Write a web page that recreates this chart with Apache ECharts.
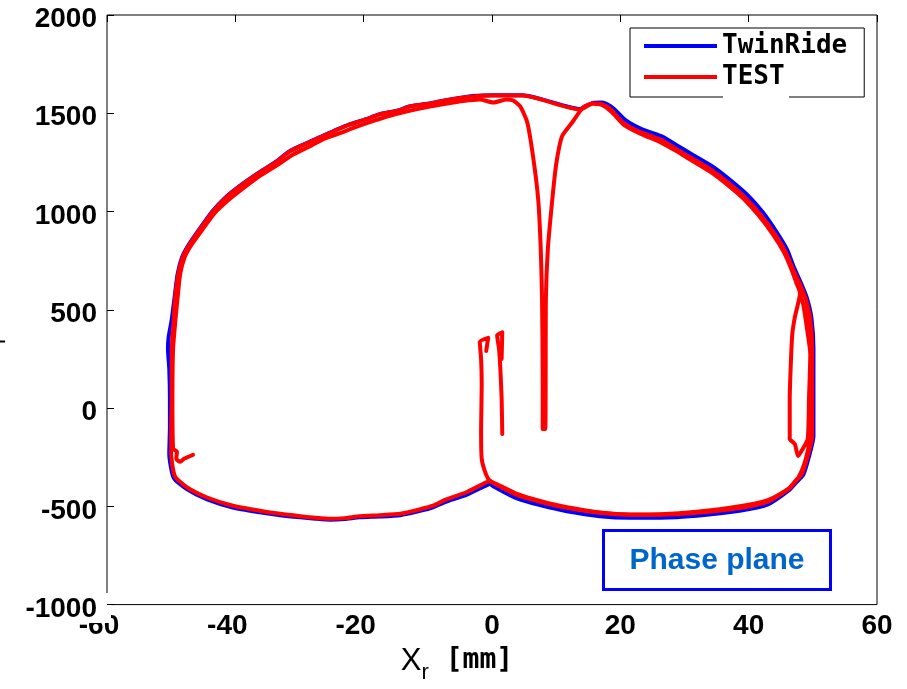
<!DOCTYPE html>
<html>
<head>
<meta charset="utf-8">
<script src="https://cdn.jsdelivr.net/npm/echarts@6/dist/echarts.min.js"></script>
<style>
  html, body { margin: 0; padding: 0; background: #fff; }
  #chart { width: 907px; height: 689px; }
</style>
</head>
<body>
<div id="chart"></div>
<script>
// Axis ranges and tick spacing
const xRange = [-60, 60];
const xStep = 20;
const yRange = [-1000, 2000];
const yStep = 500;

const seriesNames = ['TwinRide', 'TEST'];

// TwinRide trajectory: [x_r (mm), velocity]
const twinRideLoop = [
  [-0.3,-384],[-0.8,-392],[-3.9,-440],[-7.3,-478],[-9.2,-505],[-11.2,-523],[-14.3,-545],[-17.5,-552],
  [-20.6,-556],[-23.0,-565],[-25.2,-568],[-27.5,-563],[-29.9,-556],[-33.0,-545],[-36.2,-530],[-40.4,-506],
  [-44.4,-465],[-47.5,-414],[-49.6,-355],[-50.3,-233],[-50.2,-100],[-50.2,46],[-50.3,200],[-50.5,300],
  [-50.4,360],[-49.9,453],[-49.5,555],[-49.0,681],[-48.3,767],[-47.2,834],[-45.6,910],[-43.6,1000],
  [-41.7,1067],[-39.4,1128],[-36.3,1199],[-33.6,1255],[-31.6,1306],[-28.6,1352],[-26.9,1377],[-24.1,1418],
  [-22.2,1443],[-19.6,1470],[-17.6,1494],[-14.6,1515],[-12.9,1535],[-10.1,1548],[-8.2,1560],[-5.6,1575],
  [-3.0,1588],[0.0,1592],[4.8,1592],[13.7,1522],[15.7,1553],[17.2,1555],[18.8,1528],[20.8,1465],
  [23.4,1418],[26.6,1380],[28.9,1335],[31.3,1288],[34.4,1228],[37.5,1150],[39.8,1084],[42.2,996],
  [44.4,893],[46.0,805],[47.1,712],[48.2,632],[49.1,557],[49.8,455],[50.1,300],[50.1,46],
  [50.1,-142],[49.4,-247],[48.5,-340],[47.3,-382],[46.4,-415],[42.9,-492],[38.6,-523],[31.9,-548],
  [26.2,-558],[21.5,-558],[16.8,-550],[11.7,-525],[7.5,-494],[3.9,-460],[0.2,-398],[-0.3,-384]
];

// TEST trajectory, first lap around the outer loop
const testOuterLoop = [
  [-0.3,-371],[-0.8,-376],[-3.9,-427],[-7.3,-467],[-9.2,-497],[-11.2,-515],[-14.3,-538],[-17.5,-545],
  [-20.6,-550],[-23.0,-560],[-25.2,-563],[-27.5,-558],[-29.9,-550],[-33.0,-538],[-36.2,-522],[-40.4,-497],
  [-44.4,-455],[-47.5,-404],[-49.4,-348],[-50.0,-233],[-50.0,-100],[-49.9,46],[-49.9,300],[-49.6,453],
  [-49.4,555],[-48.9,681],[-48.2,767],[-47.1,834],[-45.5,910],[-43.5,1000],[-41.6,1067],[-39.3,1128],
  [-36.2,1199],[-33.5,1255],[-31.5,1306],[-28.5,1352],[-26.8,1377],[-24.0,1418],[-22.1,1443],[-19.5,1470],
  [-17.5,1494],[-14.5,1515],[-12.8,1535],[-10.0,1548],[-8.1,1560],[-5.5,1575],[-3.0,1585],[0.0,1590],
  [4.8,1590],[13.7,1519],[15.7,1550],[17.0,1548],[18.5,1520],[20.4,1453],[23.0,1405],[26.2,1367],
  [28.5,1322],[30.9,1275],[34.0,1215],[37.1,1138],[39.4,1072],[41.8,986],[44.1,884],[45.7,798],
  [46.9,707],[48.0,630],[48.9,555],[49.6,453],[49.9,300],[49.9,46],[49.9,-142],[49.2,-244],
  [48.3,-335],[47.2,-376],[46.4,-407],[42.9,-477],[38.6,-508],[31.9,-533],[26.2,-543],[21.5,-543],
  [16.8,-533],[11.7,-508],[7.5,-477],[3.9,-442],[0.2,-381],[-0.3,-371]
];

// TEST trajectory, second lap: through the central dip and the right-hand inner loop
const testSecondLap = [
  [-46.6,-238],[-48.0,-258],[-48.6,-273],[-49.2,-258],[-49.1,-222],[-49.7,-207],[-49.8,46],[-49.7,300],
  [-49.3,460],[-49.0,560],[-48.6,681],[-47.9,767],[-46.9,828],[-45.2,905],[-43.2,993],[-41.2,1055],
  [-38.9,1115],[-36.0,1185],[-33.2,1242],[-31.0,1290],[-28.2,1335],[-26.0,1372],[-23.6,1400],[-21.4,1428],
  [-18.6,1460],[-16.2,1485],[-13.2,1510],[-10.3,1530],[-7.2,1548],[-4.5,1562],[-1.9,1570],[0.2,1555],
  [2.3,1570],[3.3,1565],[4.4,1535],[5.5,1453],[6.4,1280],[7.2,1062],[7.6,808],[7.8,554],
  [7.9,148],[7.9,-106],[8.3,-106],[8.4,554],[8.7,808],[9.4,1062],[10.0,1240],[10.9,1382],
  [12.6,1458],[14.2,1530],[15.7,1550],[17.3,1540],[18.7,1505],[20.6,1440],[23.2,1395],[26.3,1352],
  [28.6,1310],[31.0,1262],[34.0,1203],[37.0,1128],[39.3,1062],[41.6,978],[43.9,878],[45.5,793],
  [46.6,712],[47.4,640],[48.0,585],[47.2,463],[46.8,377],[46.6,250],[46.4,46],[46.4,-157],
  [47.2,-183],[47.7,-244],[48.3,-215],[49.2,-157],[49.4,46],[49.6,275],[49.1,402],[48.5,529],
  [48.0,585],[48.6,520],[49.4,420],[49.7,250],[49.7,0],[49.5,-160],[48.9,-260],[47.8,-350],
  [46.0,-415],[43.0,-468],[38.6,-500],[31.9,-528],[26.2,-540],[21.5,-541],[16.8,-531],[11.7,-505],
  [7.5,-473],[3.9,-437],[0.8,-388],[-0.3,-371],[-0.9,-340],[-1.6,-259],[-1.7,-107],[-1.6,120],
  [-1.7,250],[-1.9,336],[-0.6,357],[-0.9,290]
];

// TEST trajectory, short vertical stroke right of the origin
const testStroke = [
  [1.6,-132],[1.5,50],[1.3,200],[1.1,300],[0.8,370],[1.6,385],[1.5,250]
];

const RED = '#ff0000';
const BLUE = '#0000ff';
const labelFont = 'Liberation Sans';

function lineSeries(name, data, color) {
  return {
    type: 'line',
    name: name,
    data: data,
    color: color,
    symbol: 'none',
    showSymbol: false,
    smooth: 0.2,
    silent: true,
    animation: false,
    clip: false,
    lineStyle: { color: color, width: 4, join: 'round', cap: 'round' }
  };
}

const tickFont = { fontFamily: labelFont, fontWeight: 'bold', fontSize: 28, color: '#000' };

const chart = echarts.init(document.getElementById('chart'), null, { renderer: 'canvas' });

chart.setOption({
  backgroundColor: '#fff',
  animation: false,
  grid: {
    left: 107, top: 15, width: 770, height: 591,
    show: true, borderColor: '#000', borderWidth: 1, backgroundColor: 'transparent'
  },
  legend: {
    data: seriesNames,
    orient: 'vertical',
    left: 630, top: 28,
    padding: [3, 17, 5, 14],
    itemGap: 1,
    itemWidth: 73, itemHeight: 4,
    icon: 'rect',
    backgroundColor: '#fff',
    borderColor: '#000', borderWidth: 1, borderRadius: 0,
    textStyle: {
      fontFamily: 'DejaVu Sans Mono', fontWeight: 'bold', fontSize: 26,
      color: '#000', lineHeight: 30
    }
  },
  xAxis: [
    {
      type: 'value', position: 'bottom',
      min: xRange[0], max: xRange[1], interval: xStep,
      axisLine: { show: false, onZero: false }, axisTick: { show: false }, splitLine: { show: false },
      axisLabel: Object.assign({
        margin: 8,
        formatter: v => v < 0 ? '{neg|' + v + '}' : String(v),
        rich: { neg: Object.assign({ padding: [0, 16, 0, 0] }, tickFont) }
      }, tickFont),
      name: '{x|X}{r|r}{u| [mm]}',
      nameLocation: 'middle',
      nameGap: 30,
      nameTextStyle: {
        padding: [0, 70, 0, 0],
        rich: {
          x: { fontFamily: labelFont, fontSize: 31, color: '#000' },
          r: { fontFamily: labelFont, fontSize: 22, color: '#000', padding: [24, 0, 0, 0] },
          u: { fontFamily: 'DejaVu Sans Mono', fontWeight: 'bold', fontSize: 28, color: '#000' }
        }
      }
    },
    {
      type: 'value', position: 'top',
      min: xRange[0], max: xRange[1], interval: xStep,
      axisLine: { show: false, onZero: false }, splitLine: { show: false },
      axisTick: { inside: true, length: 7, lineStyle: { color: '#000', width: 1 } },
      axisLabel: { show: false }
    }
  ],
  yAxis: [
    {
      type: 'value', position: 'left', z: 5,
      min: yRange[0], max: yRange[1], interval: yStep,
      axisLine: { show: false, onZero: false }, splitLine: { show: false },
      axisTick: { inside: true, length: 7, lineStyle: { color: '#000', width: 1 } },
      axisLabel: Object.assign({
        margin: 10,
        formatter: v => '{t|' + v + '}',
        rich: { t: Object.assign({ padding: [9, 0, 0, 0] }, tickFont) }
      }, tickFont)
    }
  ],
  series: [
    lineSeries(seriesNames[0], twinRideLoop, BLUE),
    lineSeries(seriesNames[1], testOuterLoop, RED),
    lineSeries(seriesNames[1], testSecondLap, RED),
    lineSeries(seriesNames[1], testStroke, RED)
  ],
  graphic: [
    // white patch behind the lowest y label, over the frame corner
    { type: 'rect', z: 3, silent: true, shape: { x: 18, y: 593, width: 93, height: 30 }, style: { fill: '#fff' } },
    // white patch under the TEST legend entry
    { type: 'rect', z: 10, silent: true, shape: { x: 723, y: 95, width: 66, height: 4 }, style: { fill: '#fff' } },
    // annotation box
    {
      type: 'rect', z: 10, silent: true,
      shape: { x: 603.5, y: 530.5, width: 227, height: 59 },
      style: { fill: '#fff', stroke: BLUE, lineWidth: 3 }
    },
    {
      type: 'text', z: 11, silent: true, x: 717, y: 561,
      style: {
        text: 'Phase plane', fill: '#0066cc',
        font: 'bold 30px "Liberation Sans"', align: 'center', verticalAlign: 'middle'
      }
    },
    // y-axis title, rotated
    {
      type: 'text', z: 11, silent: true, x: -13, y: 296, rotation: Math.PI / 2,
      style: {
        text: '{v|V}{r|r}{u| [mm/s]}', align: 'center', verticalAlign: 'middle',
        rich: {
          v: { fontFamily: labelFont, fontSize: 31, fill: '#000' },
          r: { fontFamily: labelFont, fontSize: 22, fill: '#000', padding: [24, 0, 0, 0] },
          u: { fontFamily: 'DejaVu Sans Mono', fontWeight: 'bold', fontSize: 26, fill: '#000' }
        }
      }
    }
  ]
});
</script>
</body>
</html>
